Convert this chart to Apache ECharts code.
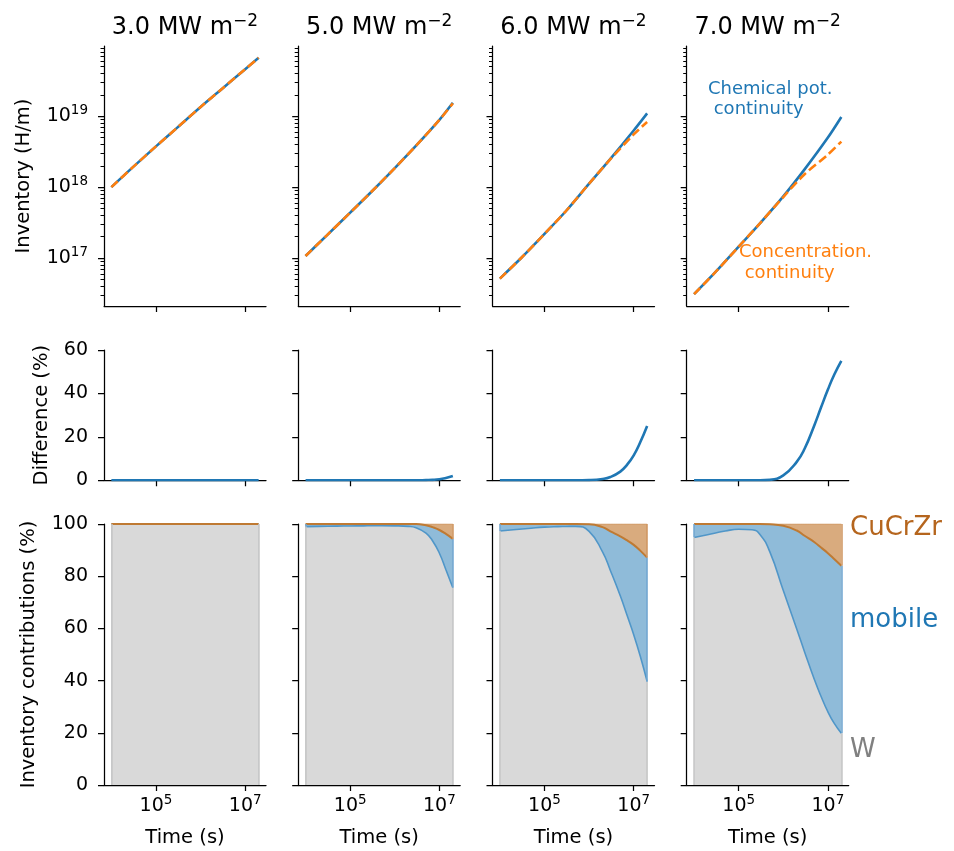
<!DOCTYPE html>
<html><head><meta charset="utf-8">
<script src="https://cdn.jsdelivr.net/npm/echarts@6/dist/echarts.min.js"></script>
<style>html,body{margin:0;padding:0;background:#fff}#c{width:954px;height:851px}</style>
</head><body><div id="c"></div>
<script>
// ---------------- data ----------------
const fluxTitles = ['3.0 MW m', '5.0 MW m', '6.0 MW m', '7.0 MW m'];
const fluxUnitSup = '\u22122';

// Row 1: inventory (H/m) vs time (s)
const timeInv = [1e4, 3e4, 1e5, 3e5, 1e6, 3e6, 1e7, 2e7];
const invChem_3 = [1.0e18, 1.9e18, 3.76e18, 6.92e18, 1.35e19, 2.43e19, 4.62e19, 6.68e19];
const invConc_3 = [1.0e18, 1.9e18, 3.76e18, 6.92e18, 1.35e19, 2.43e19, 4.62e19, 6.68e19];
const invChem_5 = [1.07e17, 2.09e17, 4.37e17, 8.61e17, 1.86e18, 3.85e18, 8.91e18, 1.55e19];
const invConc_5 = [1.07e17, 2.09e17, 4.37e17, 8.61e17, 1.86e18, 3.85e18, 8.87e18, 1.52e19];
const invChem_6 = [5.13e16, 1.0e17, 2.19e17, 4.57e17, 1.12e18, 2.51e18, 6.31e18, 1.10e19];
const invConc_6 = [5.13e16, 1.0e17, 2.19e17, 4.57e17, 1.12e18, 2.48e18, 5.55e18, 8.3e18];
const invChem_7 = [3.09e16, 6.31e16, 1.45e17, 3.09e17, 7.41e17, 1.78e18, 5.01e18, 9.77e18];
const invConc_7 = [3.09e16, 6.31e16, 1.45e17, 3.09e17, 7.26e17, 1.52e18, 2.88e18, 4.40e18];

// Rows 2 and 3 share a finer time grid
const timeFine = [1e4, 2e4, 5e4, 1e5, 2e5, 3e5, 5e5, 1e6, 2e6, 3e6, 5e6, 7e6, 1e7, 1.4e7, 2e7];
// Row 2: difference (%)
const diff_3 = [0, 0, 0, 0, 0, 0, 0, 0, 0, 0, 0, 0, 0, 0, 0];
const diff_5 = [0, 0, 0, 0, 0, 0, 0, 0, 0, 0, 0.1, 0.2, 0.5, 1.1, 2.0];
const diff_6 = [0, 0, 0, 0, 0, 0, 0, 0.1, 0.6, 1.5, 4.0, 7.0, 11.5, 17.5, 25.0];
const diff_7 = [0, 0, 0, 0, 0, 0, 0.2, 2.3, 8.5, 14.5, 25.5, 33.5, 41.8, 48.8, 55.0];
// Row 3: inventory contributions (%)
const w_3 = [100, 100, 100, 100, 100, 100, 100, 100, 100, 100, 100, 100, 100, 100, 100];
const mobile_3 = [0, 0, 0, 0, 0, 0, 0, 0, 0, 0, 0, 0, 0, 0, 0];
const cucrzr_3 = [0, 0, 0, 0, 0, 0, 0, 0, 0, 0, 0, 0, 0, 0, 0];
const w_5 = [99.0, 99.1, 99.2, 99.25, 99.3, 99.32, 99.35, 99.3, 99.1, 98.6, 96.5, 93.6, 88.8, 82.5, 75.6];
const mobile_5 = [1.0, 0.9, 0.8, 0.75, 0.7, 0.68, 0.65, 0.7, 0.9, 1.4, 3.0, 5.2, 8.9, 13.7, 18.7];
const cucrzr_5 = [0, 0, 0, 0, 0, 0, 0, 0, 0, 0, 0.5, 1.2, 2.3, 3.8, 5.7];
const w_6 = [97.3, 97.8, 98.4, 98.8, 99.0, 99.05, 99.1, 97.2, 89.3, 82.2, 72.5, 65.3, 57.6, 49.4, 39.6];
const mobile_6 = [2.7, 2.2, 1.6, 1.2, 1.0, 0.95, 0.9, 2.7, 9.5, 15.0, 22.8, 28.5, 34.4, 40.4, 47.5];
const cucrzr_6 = [0, 0, 0, 0, 0, 0, 0, 0.1, 1.2, 2.8, 4.7, 6.2, 8.0, 10.2, 12.9];
const w_7 = [94.8, 95.9, 97.3, 98.0, 97.8, 96.0, 89.3, 74.5, 59.8, 51.0, 40.3, 34.0, 28.0, 23.5, 19.8];
const mobile_7 = [5.2, 4.1, 2.7, 2.0, 2.2, 4.0, 10.6, 24.8, 37.7, 44.5, 52.7, 57.0, 60.8, 63.0, 64.2];
const cucrzr_7 = [0, 0, 0, 0, 0, 0, 0.1, 0.7, 2.5, 4.5, 7.0, 9.0, 11.2, 13.5, 16.0];

// Tick labels
const timeTicks = [1e5, 1e7];
const invTicks = [1e17, 1e18, 1e19];
const diffTicks = [0, 20, 40, 60];
const contribTicks = [0, 20, 40, 60, 80, 100];

// ---------------- layout / style ----------------
const FONT = 'DejaVu Sans';
const BLUE = '#1f77b4', ORANGE = '#ff7f0e';
const colLeft = [104, 298.2, 492.5, 686.7];
const colW = 162;
const rows = [{top: 46, h: 260}, {top: 350, h: 130.3}, {top: 524, h: 261}];

const panels = [
  {chem: invChem_3, conc: invConc_3, diff: diff_3, w: w_3, mob: mobile_3, cu: cucrzr_3},
  {chem: invChem_5, conc: invConc_5, diff: diff_5, w: w_5, mob: mobile_5, cu: cucrzr_5},
  {chem: invChem_6, conc: invConc_6, diff: diff_6, w: w_6, mob: mobile_6, cu: cucrzr_6},
  {chem: invChem_7, conc: invConc_7, diff: diff_7, w: w_7, mob: mobile_7, cu: cucrzr_7}
];

const L = Math.log10;
function padRange(vals) {
  const lo = Math.min(...vals), hi = Math.max(...vals), p = 0.05 * (hi - lo);
  return [lo - p, hi + p];
}
const [xMin, xMax] = padRange(timeFine.concat(timeInv).map(L));
let allInv = [];
panels.forEach(p => { allInv = allInv.concat(p.chem, p.conc); });
const [yMin, yMax] = padRange(allInv.map(L));
const minorVals = [];
for (let d = Math.floor(yMin); d <= Math.ceil(yMax); d++) {
  for (let k = 2; k <= 9; k++) { const v = d + L(k); if (v > yMin && v < yMax) minorVals.push(v); }
}

const richPow = {
  b: {fontSize: 19, fontFamily: FONT, color: '#000'},
  s: {fontSize: 13.5, fontFamily: FONT, color: '#000', padding: [0, 0, 12, 0]}
};
const powFmt = v => '{b|10}{s|' + Math.round(v) + '}';
const axisLineStyle = {color: '#000', width: 1.25};
const nameStyle = {fontSize: 19.5, fontFamily: FONT, color: '#000'};

const grid = [], xAxis = [], yAxis = [], series = [];
function line(g, yi, data, lineStyle, extra) {
  return Object.assign({
    type: 'line', xAxisIndex: g, yAxisIndex: yi, showSymbol: false, smooth: 0.3, silent: true,
    lineStyle: lineStyle, itemStyle: {color: lineStyle.color}, data: data
  }, extra || {});
}
function edges(segs, color) {
  return {
    silent: true, symbol: ['none', 'none'], label: {show: false},
    lineStyle: {color: color, width: 1.5, type: 'solid'},
    data: segs.map(s => [{coord: s[0]}, {coord: s[1]}])
  };
}
for (let r = 0; r < 3; r++) {
  for (let c = 0; c < 4; c++) {
    const g = grid.length;
    grid.push({left: colLeft[c], top: rows[r].top, width: colW, height: rows[r].h, containLabel: false});
    xAxis.push({
      type: 'value', gridIndex: g, min: xMin, max: xMax,
      axisLine: {show: true, onZero: false, lineStyle: axisLineStyle},
      axisTick: {show: true, length: 6, lineStyle: axisLineStyle, customValues: timeTicks.map(L)},
      axisLabel: {show: r === 2, customValues: timeTicks.map(L), formatter: powFmt, rich: richPow, margin: 8},
      splitLine: {show: false},
      name: r === 2 ? 'Time (s)' : '', nameLocation: 'middle', nameGap: 43, nameTextStyle: nameStyle
    });
    const p = panels[c];
    const yi = yAxis.length;
    if (r === 0) {
      yAxis.push({
        type: 'value', gridIndex: g, min: yMin, max: yMax, position: 'left',
        axisLine: {show: true, onZero: false, lineStyle: axisLineStyle},
        axisTick: {show: true, length: 6, lineStyle: axisLineStyle, customValues: invTicks.map(L)},
        axisLabel: {show: c === 0, customValues: invTicks.map(L), formatter: powFmt, rich: richPow, margin: 16},
        splitLine: {show: false},
        name: c === 0 ? 'Inventory (H/m)' : '', nameLocation: 'middle', nameGap: 70, nameTextStyle: nameStyle
      });
      yAxis.push({
        type: 'value', gridIndex: g, min: yMin, max: yMax, position: 'left', offset: 0,
        axisLine: {show: false},
        axisTick: {show: true, length: 3.5, lineStyle: {color: '#000', width: 1}, customValues: minorVals},
        axisLabel: {show: false}, splitLine: {show: false}
      });
      series.push(line(g, yi, timeInv.map((t, i) => [L(t), L(p.chem[i])]), {color: BLUE, width: 2.6}));
      series.push(line(g, yi, timeInv.map((t, i) => [L(t), L(p.conc[i])]), {color: ORANGE, width: 2.6, type: [9, 4]}));
    } else if (r === 1) {
      yAxis.push({
        type: 'value', gridIndex: g, min: 0, max: 60, interval: 20,
        axisLine: {show: true, onZero: false, lineStyle: axisLineStyle},
        axisTick: {show: true, length: 6, lineStyle: axisLineStyle, customValues: diffTicks},
        axisLabel: {show: c === 0, customValues: diffTicks, fontSize: 19, fontFamily: FONT, color: '#000', margin: 16},
        splitLine: {show: false},
        name: c === 0 ? 'Difference (%)' : '', nameLocation: 'middle', nameGap: 52, nameTextStyle: nameStyle
      });
      series.push(line(g, yi, timeFine.map((t, i) => [L(t), p.diff[i]]), {color: BLUE, width: 2.6}, {smooth: 0.5}));
    } else {
      yAxis.push({
        type: 'value', gridIndex: g, min: 0, max: 100, interval: 20,
        axisLine: {show: true, onZero: false, lineStyle: axisLineStyle},
        axisTick: {show: true, length: 6, lineStyle: axisLineStyle, customValues: contribTicks},
        axisLabel: {show: c === 0, customValues: contribTicks, fontSize: 19, fontFamily: FONT, color: '#000', margin: 16},
        splitLine: {show: false},
        name: c === 0 ? 'Inventory contributions (%)' : '', nameLocation: 'middle', nameGap: 65, nameTextStyle: nameStyle
      });
      // cumulative boundaries (stacked W / mobile / CuCrZr)
      const b1 = timeFine.map((t, i) => [L(t), p.w[i]]);
      const b2 = timeFine.map((t, i) => [L(t), p.w[i] + p.mob[i]]);
      const b3 = timeFine.map((t, i) => [L(t), p.w[i] + p.mob[i] + p.cu[i]]);
      const n = timeFine.length - 1;
      const x0 = b1[0][0], xN = b1[n][0];
      const sm = {smooth: 0.5};
      series.push(line(g, yi, b3, {color: '#cf9660', width: 1}, Object.assign({
        areaStyle: {color: '#d9ab7e', opacity: 1},
        markLine: edges([[[xN, b2[n][1]], [xN, b3[n][1]]]], '#cf9660')
      }, sm)));
      series.push(line(g, yi, b2, {color: '#8fbbd9', width: 0}, Object.assign({
        areaStyle: {color: '#8fbbd9', opacity: 1},
        markLine: edges([[[x0, b1[0][1]], [x0, b2[0][1]]], [[xN, b1[n][1]], [xN, b2[n][1]]]], '#6fa6d2')
      }, sm)));
      series.push(line(g, yi, b1, {color: '#d9d9d9', width: 0}, Object.assign({
        areaStyle: {color: '#d9d9d9', opacity: 1},
        markLine: edges([[[x0, 0], [x0, b1[0][1]]], [[xN, 0], [xN, b1[n][1]]]], '#c6c6c6')
      }, sm)));
      series.push(line(g, yi, b1, {color: '#5096c8', width: 1.6}, sm));
      series.push(line(g, yi, b2, {color: '#bf7a33', width: 2}, sm));
    }
  }
}

const graphic = [];
fluxTitles.forEach((t, c) => {
  graphic.push({
    type: 'text', x: colLeft[c] + colW / 2, y: 28,
    style: {
      text: '{m|' + t + '}{s|' + fluxUnitSup + '}', align: 'center', verticalAlign: 'middle',
      rich: {
        m: {fontSize: 24, fontFamily: FONT, fill: '#000', color: '#000'},
        s: {fontSize: 17, fontFamily: FONT, fill: '#000', color: '#000', padding: [0, 0, 13, 0]}
      }
    }
  });
});
graphic.push({type: 'text', x: 708, y: 79, style: {text: 'Chemical pot.\n continuity', font: '18px "DejaVu Sans"', fill: BLUE, align: 'left', verticalAlign: 'top', lineHeight: 20}});
graphic.push({type: 'text', x: 739, y: 242, style: {text: 'Concentration.\n continuity', font: '18px "DejaVu Sans"', fill: ORANGE, align: 'left', verticalAlign: 'top', lineHeight: 21}});
graphic.push({type: 'text', x: 850, y: 528, style: {text: 'CuCrZr', font: '26px "DejaVu Sans"', fill: '#b5651d', align: 'left', verticalAlign: 'middle'}});
graphic.push({type: 'text', x: 850, y: 620, style: {text: 'mobile', font: '26px "DejaVu Sans"', fill: BLUE, align: 'left', verticalAlign: 'middle'}});
graphic.push({type: 'text', x: 850, y: 750, style: {text: 'W', font: '26px "DejaVu Sans"', fill: '#808080', align: 'left', verticalAlign: 'middle'}});

const chart = echarts.init(document.getElementById('c'), null, {renderer: 'canvas'});
chart.setOption({
  animation: false, backgroundColor: '#fff',
  textStyle: {fontFamily: FONT},
  grid, xAxis, yAxis, series, graphic
});
</script></body></html>
